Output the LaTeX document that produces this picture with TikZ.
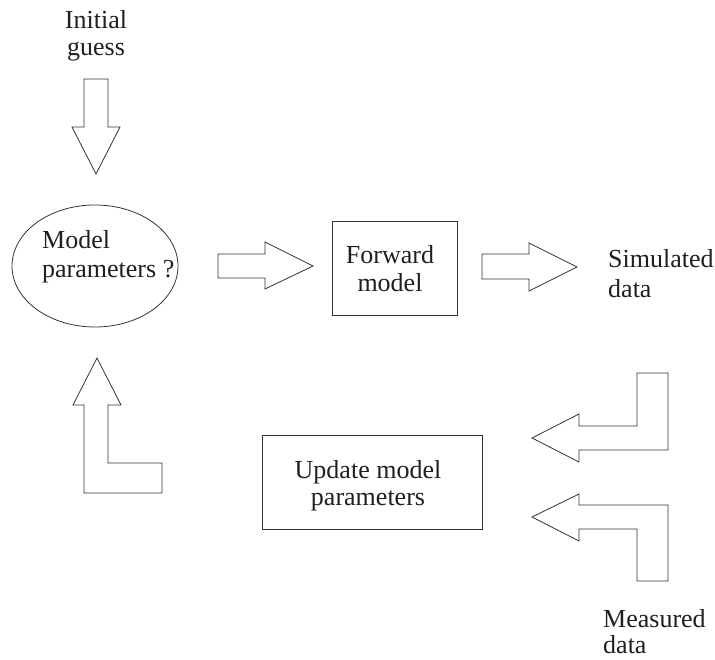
\documentclass[tikz,border=0pt]{standalone}
\usepackage{fontspec}
\setmainfont{Liberation Serif}
\usetikzlibrary{shapes.geometric}
\begin{document}
\begin{tikzpicture}[x=1pt,y=-1pt,
  ln/.style={draw=black!80,line width=0.8pt,line join=miter},
  txt/.style={inner sep=0pt,font=\fontsize{26}{28}\selectfont,text=black!88},
]
\useasboundingbox (0,0) rectangle (715,659);
% ellipse
\node[ln,ellipse,minimum width=166pt,minimum height=122pt,inner sep=0pt] (mp) at (95,266) {};
\node[txt,align=left,anchor=base west,font=\fontsize{26}{29}\selectfont] (mptxt) at (42,277) {Model\\parameters ?};
% boxes
\node[ln,rectangle,minimum width=125pt,minimum height=94pt,inner sep=0pt] (fwbox) at (394.5,268) {};
\node[txt,align=center,anchor=base] (fw) at (390,291) {Forward\\model};
\node[ln,rectangle,minimum width=220pt,minimum height=94pt,inner sep=0pt] (upbox) at (372,482) {};
\node[txt,align=center,anchor=base,font=\fontsize{26}{27}\selectfont] (up) at (368,505) {Update model\\parameters};
% texts
\node[txt,align=center,anchor=base,font=\fontsize{26}{27}\selectfont] (ig) at (96,55) {Initial\\guess};
\node[txt,align=left,anchor=base west,font=\fontsize{26}{30}\selectfont] (sd) at (608,297) {Simulated\\data};
\node[txt,align=left,anchor=base west,font=\fontsize{26}{26}\selectfont] (md) at (603,653) {Measured\\data};
% block arrows
\draw[ln] (84,79) -- (108,79) -- (108,127) -- (120,127) -- (96,174) -- (72,127) -- (84,127) -- cycle;
\draw[ln] (218,254) -- (265,254) -- (265,242) -- (313,266) -- (265,289) -- (265,278) -- (218,278) -- cycle;
\draw[ln] (482,254) -- (529,254) -- (529,243) -- (577,267) -- (529,291) -- (529,279) -- (482,279) -- cycle;
\draw[ln] (84,493) -- (162,493) -- (162,463) -- (108,463) -- (108,405) -- (121,405) -- (97,358) -- (73,405) -- (84,405) -- cycle;
\draw[ln] (668,373) -- (668,450) -- (579,450) -- (579,462) -- (532,438) -- (579,414) -- (579,426) -- (637,426) -- (637,373) -- cycle;
\draw[ln] (668,581) -- (637,581) -- (637,529) -- (579,529) -- (579,541) -- (532,517) -- (579,494) -- (579,505) -- (668,505) -- cycle;
\end{tikzpicture}
\end{document}
